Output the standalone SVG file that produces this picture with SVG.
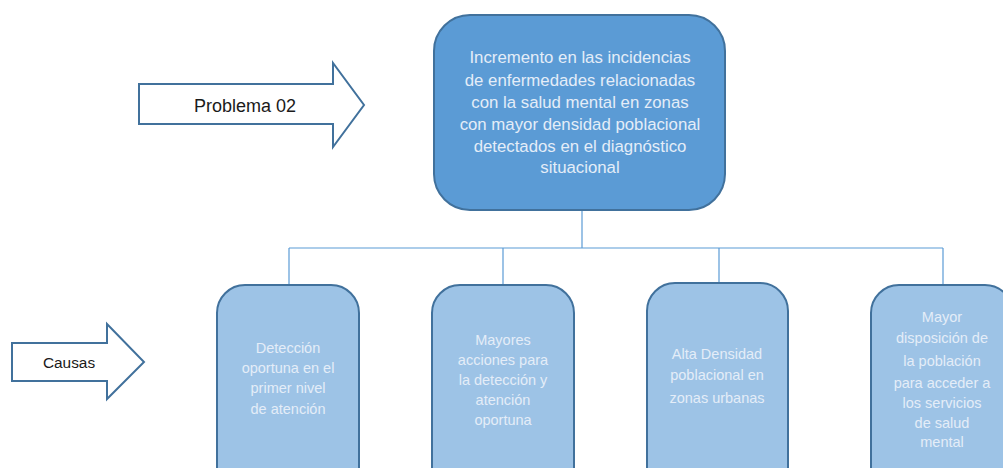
<svg xmlns="http://www.w3.org/2000/svg" width="1003" height="468" viewBox="0 0 1003 468">
<style>
.arrow{fill:#ffffff;stroke:#41719C;stroke-width:2;stroke-linejoin:miter}
.lbl{font-family:"Liberation Sans",Arial,sans-serif;fill:#1a1a1a;text-anchor:middle}
.main{fill:#5B9BD5;stroke:#41719C;stroke-width:2}
.cause{fill:#9DC3E6;stroke:#41719C;stroke-width:2}
.mt{font-family:"Liberation Sans",Arial,sans-serif;font-size:16.8px;fill:#E4EDF8;text-anchor:middle}
.ct{font-family:"Liberation Sans",Arial,sans-serif;font-size:14.5px;fill:#E4EDF8;text-anchor:middle}
.conn{fill:none;stroke:#5B9BD5;stroke-width:1.2}
</style>
<rect width="1003" height="468" fill="#ffffff"/>
<g id="connectors">
<path class="conn" d="M582 210 V248"/>
<path class="conn" d="M289 248 H943"/>
<path class="conn" d="M289 248 V285"/>
<path class="conn" d="M503 248 V285"/>
<path class="conn" d="M719 248 V283"/>
<path class="conn" d="M943 248 V285"/>
</g>
<g id="arrow-problema">
<polygon class="arrow" points="139,84 333,84 333,63 364,105 333,147 333,124 139,124"/>
<text class="lbl" x="245" y="112" font-size="18">Problema 02</text>
</g>
<g id="arrow-causas">
<polygon class="arrow" points="12,343 107,343 107,324 144,362 107,399 107,381 12,381"/>
<text class="lbl" x="69" y="368" font-size="15.4">Causas</text>
</g>
<g id="problema">
<rect class="main" x="434" y="15" width="291" height="195" rx="36" ry="36"/>
<text class="mt" x="580" y="63">Incremento en las incidencias</text>
<text class="mt" x="580" y="85.5">de enfermedades relacionadas</text>
<text class="mt" x="580" y="107.5">con la salud mental en zonas</text>
<text class="mt" x="580" y="129.5">con mayor densidad poblacional</text>
<text class="mt" x="580" y="151.5">detectados en el diagnóstico</text>
<text class="mt" x="580" y="173">situacional</text>
</g>
<g id="causa1">
<rect class="cause" x="217" y="285" width="142" height="210" rx="28" ry="28"/>
<text class="ct" x="288" y="353">Detección</text>
<text class="ct" x="288" y="373">oportuna en el</text>
<text class="ct" x="288" y="393">primer nivel</text>
<text class="ct" x="288" y="414">de atención</text>
</g>
<g id="causa2">
<rect class="cause" x="432" y="285" width="142" height="210" rx="28" ry="28"/>
<text class="ct" x="503" y="345">Mayores</text>
<text class="ct" x="503" y="365">acciones para</text>
<text class="ct" x="503" y="385">la detección y</text>
<text class="ct" x="503" y="405">atención</text>
<text class="ct" x="503" y="425">oportuna</text>
</g>
<g id="causa3">
<rect class="cause" x="647" y="283" width="141" height="212" rx="28" ry="28"/>
<text class="ct" x="717" y="359">Alta Densidad</text>
<text class="ct" x="717" y="380">poblacional en</text>
<text class="ct" x="717" y="403">zonas urbanas</text>
</g>
<g id="causa4">
<rect class="cause" x="871" y="285" width="142" height="210" rx="28" ry="28"/>
<text class="ct" x="942" y="322">Mayor</text>
<text class="ct" x="942" y="343">disposición de</text>
<text class="ct" x="942" y="366">la población</text>
<text class="ct" x="942" y="388">para acceder a</text>
<text class="ct" x="942" y="408">los servicios</text>
<text class="ct" x="942" y="428">de salud</text>
<text class="ct" x="942" y="447">mental</text>
</g>
</svg>
